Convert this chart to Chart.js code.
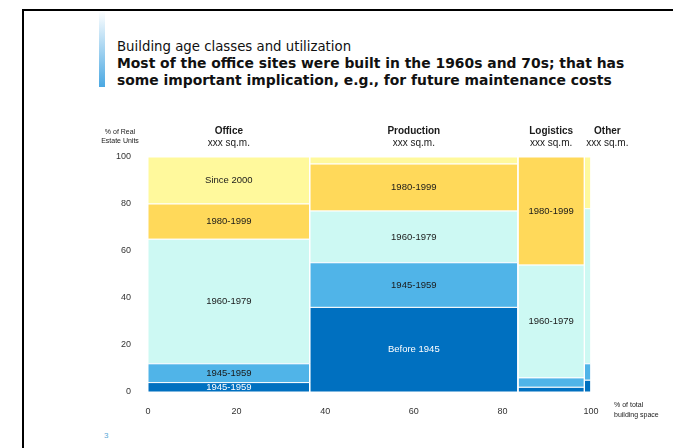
<!DOCTYPE html>
<html>
<head>
<meta charset="utf-8">
<script src="https://cdn.jsdelivr.net/npm/chart.js@4/dist/chart.umd.min.js"></script>
<style>
  html, body { margin: 0; padding: 0; background: #fff; }
  body { width: 673px; height: 448px; position: relative; overflow: hidden; }
  #frame { position: absolute; left: 22px; top: 9px; width: 700px; height: 500px; border: 2px solid #000; }
  #accent { position: absolute; left: 99px; top: 11px; width: 6px; height: 76px;
            background: linear-gradient(to bottom, #ffffff, #4aa8e2); }
  #title { position: absolute; left: 117px; top: 38px; font-family: "DejaVu Sans", sans-serif;
           color: #111; line-height: 17px; }
  #title .sub { font-size: 13.3px; }
  #title .main { font-size: 13.9px; font-weight: bold; }
  #page { position: absolute; left: 104px; top: 431px; font: 8px "Liberation Sans", Arial, sans-serif; color: #5aa7d6; }
  #chartBox { position: absolute; left: 0; top: 110px; width: 673px; height: 320px; }
</style>
</head>
<body>
<div id="frame"></div>
<div id="accent"></div>
<div id="title">
  <div class="sub">Building age classes and utilization</div>
  <div class="main">Most of the office sites were built in the 1960s and 70s; that has<br>some important implication, e.g., for future maintenance costs</div>
</div>
<div id="chartBox"><canvas id="mekko" width="673" height="320"></canvas></div>
<div id="page">3</div>
<script>
// ---- data ----
const columns = ['Office', 'Production', 'Logistics', 'Other'];
const columnSub = ['xxx sq.m.', 'xxx sq.m.', 'xxx sq.m.', 'xxx sq.m.'];
const columnWidths = [36.5, 47, 15, 1.5];      // % of total building space

const ageClasses = ['Before 1945', '1945-1959', '1960-1979', '1980-1999', 'Since 2000'];
const sharesBefore1945 = [4, 36, 2, 5];
const shares1945 = [8, 19, 4, 7];
const shares1960 = [53, 22, 48, 66];
const shares1980 = [15, 20, 46, 0];
const sharesSince2000 = [20, 3, 0, 22];

// labels written inside the cells ('' = no label)
const labelsBefore1945 = ['1945-1959', 'Before 1945', '', ''];
const labels1945 = ['1945-1959', '1945-1959', '', ''];
const labels1960 = ['1960-1979', '1960-1979', '1960-1979', ''];
const labels1980 = ['1980-1999', '1980-1999', '1980-1999', ''];
const labelsSince2000 = ['Since 2000', '', '', ''];

const xTicks = [0, 20, 40, 60, 80, 100];
const yTicks = [0, 20, 40, 60, 80, 100];

// ---- styles ----
const ageColors = ['#0070c0', '#50b4e8', '#cdf9f3', '#ffd95a', '#fff99c'];
const ageTextColors = ['#ffffff', '#1a1a1a', '#1a1a1a', '#1a1a1a', '#1a1a1a'];
const FONT = '"Liberation Sans", Arial, sans-serif';

const shares = [sharesBefore1945, shares1945, shares1960, shares1980, sharesSince2000];
const cellLabels = [labelsBefore1945, labels1945, labels1960, labels1980, labelsSince2000];

// one closed polygon per cell of the mekko
const datasets = [];
const colCenters = [];
let x0 = 0;
columns.forEach((col, c) => {
    const x1 = x0 + columnWidths[c];
    colCenters.push((x0 + x1) / 2);
    let y0 = 0;
    ageClasses.forEach((age, a) => {
        const v = shares[a][c];
        const y1 = y0 + v;
        if (v > 0) {
            datasets.push({
                label: col + ' ' + age,
                data: [{x: x0, y: y0}, {x: x0, y: y1}, {x: x1, y: y1}, {x: x1, y: y0}, {x: x0, y: y0}],
                backgroundColor: ageColors[a],
                borderColor: '#ffffff',
                borderWidth: 1,
                fill: 'shape',
                pointRadius: 0,
                tension: 0,
                cellText: cellLabels[a][c],
                cellTextColor: ageTextColors[a],
                cx: (x0 + x1) / 2,
                cy: (y0 + y1) / 2
            });
        }
        y0 = y1;
    });
    x0 = x1;
});

// texts inside the cells, headers and axis captions
const annotations = {
    id: 'annotations',
    afterDatasetsDraw(chart) {
        const ctx = chart.ctx;
        const xs = chart.scales.x, ys = chart.scales.y;
        const area = chart.chartArea;
        ctx.save();
        ctx.textAlign = 'center';
        ctx.textBaseline = 'middle';
        ctx.font = '9.5px ' + FONT;
        chart.data.datasets.forEach(ds => {
            if (!ds.cellText) return;
            ctx.fillStyle = ds.cellTextColor;
            ctx.fillText(ds.cellText, xs.getPixelForValue(ds.cx), ys.getPixelForValue(ds.cy));
        });

        // column headers, pushed right when they would overlap the previous one
        let prevRight = -Infinity;
        columns.forEach((col, c) => {
            ctx.font = '10px ' + FONT;
            const w = Math.max(ctx.measureText(columnSub[c]).width, ctx.measureText(col).width);
            let cx = xs.getPixelForValue(colCenters[c]);
            cx = Math.max(cx, prevRight + 14 + w / 2);
            prevRight = cx + w / 2;
            ctx.fillStyle = '#1a1a1a';
            ctx.font = 'bold 10px ' + FONT;
            ctx.fillText(col, cx, area.top - 26);
            ctx.font = '10px ' + FONT;
            ctx.fillText(columnSub[c], cx, area.top - 14);
        });

        // axis captions
        ctx.font = '7px ' + FONT;
        ctx.fillStyle = '#1a1a1a';
        ctx.fillText('% of Real', 120, area.top - 25);
        ctx.fillText('Estate Units', 120, area.top - 16);
        ctx.textAlign = 'left';
        ctx.fillText('% of total', area.right + 23, area.bottom + 13);
        ctx.fillText('building space', area.right + 23, area.bottom + 23);
        ctx.restore();
    }
};

new Chart(document.getElementById('mekko'), {
    type: 'line',
    data: { datasets: datasets },
    options: {
        responsive: false,
        animation: false,
        layout: { padding: { left: 0, right: 82, top: 47, bottom: 0 } },
        plugins: { legend: { display: false }, tooltip: { enabled: false } },
        scales: {
            x: {
                type: 'linear', min: 0, max: 100,
                afterBuildTicks: s => { s.ticks = xTicks.map(v => ({value: v})); },
                afterFit: s => { s.height = 38; },
                grid: { display: false, drawTicks: false },
                border: { display: false },
                ticks: { padding: 14, color: '#333', font: { family: FONT, size: 9 } }
            },
            y: {
                min: 0, max: 100,
                afterBuildTicks: s => { s.ticks = yTicks.map(v => ({value: v})); },
                afterFit: s => { s.width = 148; },
                grid: { display: false, drawTicks: false },
                border: { display: false },
                ticks: { padding: 17, color: '#333', font: { family: FONT, size: 9 } }
            }
        }
    },
    plugins: [annotations]
});
</script>
</body>
</html>
